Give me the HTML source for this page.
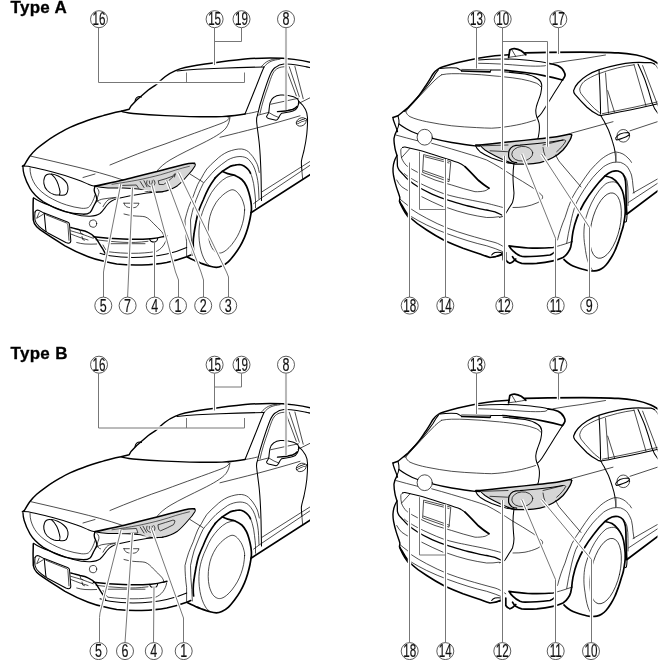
<!DOCTYPE html>
<html>
<head>
<meta charset="utf-8">
<style>
html,body{margin:0;padding:0;background:#fff;}
body{width:660px;height:660px;overflow:hidden;font-family:"Liberation Sans",sans-serif;}
svg{display:block;position:absolute;left:0;top:0;}
.t{fill:none;stroke:#000;stroke-width:0.7;stroke-linecap:round;stroke-linejoin:round;}
.m{fill:none;stroke:#000;stroke-width:1.05;stroke-linecap:round;stroke-linejoin:round;}
.k{fill:none;stroke:#000;stroke-width:1.7;stroke-linecap:round;stroke-linejoin:round;}
.g{fill:#d6d6d6;stroke:none;}
.ld{fill:none;stroke:#777;stroke-width:1;}
.ldh{fill:none;stroke:#fff;stroke-width:3.4;stroke-linecap:butt;}
.lb circle{fill:#fff;stroke:#333;stroke-width:0.8;}
.lb text{font-family:"Liberation Sans",sans-serif;font-size:18.8px;fill:#111;text-anchor:middle;stroke:#111;stroke-width:0.2;}
.ttl{font-family:"Liberation Sans",sans-serif;font-weight:bold;font-size:17px;letter-spacing:0.3px;fill:#000;stroke:#000;stroke-width:0.3;}
</style>
</head>
<body>
<svg width="660" height="660" viewBox="0 0 660 660" style="filter:grayscale(1)">
<defs>
<clipPath id="cft"><path d="M222.3,100 L320,100 L320,300 L219,300 L219,262 L222.3,172.5 Z"/></clipPath>
<clipPath id="cf"><rect x="0" y="0" width="310" height="330"/></clipPath>
<!-- ================= FRONT CAR ================= -->
<g id="front" clip-path="url(#cf)">
 <!-- headlight fill -->
 <path class="g" d="M95,186 C105,184 115,182 123,180 C135,177 146,174 157,171.5 C168,168.5 178,166 184,164.5 C189,163.5 192,163 194.5,163.5 C195.5,164 195.5,165 195,166 C193,169.5 191,172 188,175 C185,178.5 181.5,182.5 177.5,185.7 C173,188.7 167.5,190.8 162,191.8 C157,192.5 152,192.3 148,191.6 C145,191 143,189.8 140,189.3 C134,188.5 129,188.2 123,188 L108,188 C103,187.5 99,187 95,186 Z"/>
 <!-- roof / far A pillar / hood edge -->
 <path class="k" style="stroke-width:1.45" d="M311,62.5 C305,60.9 300,60.1 294,59.4 C288,58.6 280,58 270,58 C260,58 252,58.5 245,59 C235,60 226,61 215,62.8 C203,64.4 193,65.8 185,67.5 C181,68.4 178,69.5 175,70.8 C171,72.5 168,74.3 165,76.7 C162,79 159.5,81.8 156.7,84.2 C154,86.3 151,88 148.3,90 L136.7,100 L131,106 L129.2,109.2 L121,111.3 C119.5,111.6 115.0,112.5 112.0,113.2 C109.0,113.9 106.1,114.8 103.3,115.6 C100.5,116.4 97.8,117.2 95.0,118.0 C92.2,118.8 89.5,119.7 86.7,120.7 C83.9,121.7 80.8,122.9 78.0,124.0 C75.2,125.1 72.8,126.1 70.0,127.4 C67.2,128.7 64.3,130.2 61.5,131.8 C58.7,133.4 56.0,134.9 53.3,136.7 C50.5,138.4 47.8,140.3 45.0,142.3 C42.2,144.3 39.2,146.5 36.7,148.8 C34.2,151.1 32.1,153.2 30.0,156.0 C27.9,158.8 25.0,163.9 24.0,165.5"/>
 <!-- far mirror bump -->
 <path class="m" d="M135,101 C135.5,98.5 137.5,96.5 140,96.5 L141.5,97"/>
 <!-- windshield base -->
 <path class="k" style="stroke-width:1.4" d="M121,111.2 C124,112.5 128,113 133,113.5 C143,114.5 155,115.3 165,115.6 C185,116.5 205,117.3 222,116.6 C232,116 240,115 245,114"/>
 <path class="t" d="M245,114 C250,113.3 254,112.4 257.4,111.5"/>
 <!-- windshield top -->
 <path class="m" d="M177,71 C190,69.5 205,68.6 220,68.2 C235,67.6 250,67.2 264,67"/>
 <!-- A pillar near, inner edge -->
 <path class="m" d="M264,67 C262,71.5 260,76.5 258,81.7 C254,92 249.5,103 245,114"/>
 <!-- A pillar to roof double line -->
 <path class="t" d="M261.5,66.5 C263.5,64 266,62 268.5,60.8 C271,59.6 274,59 277,58.6"/>
 <path class="t" d="M264,67 C266,64.3 268.5,62.5 271,61.3 C273.5,60.2 277,59.6 280,59.2"/>
 <!-- door frame outer -->
 <path class="m" d="M257.5,115 C259,108 261,101 263,95 C265.5,87.5 267.5,81 270,75 C271.5,71.5 273,69 275.5,67.3 C278,65.3 281,64.3 284,64 C288,63.7 292,64.2 296.7,65 C301,65.7 306,66.6 311,67.7"/>
 <!-- door frame inner -->
 <path class="t" d="M260,113.5 C262,104 265,95 268,86.7 C269.6,82 271,77 273,73.2 C274.3,70.7 276,69.2 278,68.2 C280.5,67 283,66.7 286,66.7"/>
 <!-- B pillar -->
 <path class="t" d="M285.5,67 L296.3,95.8"/>
 <path class="t" d="M289.3,66.8 L299.3,96.7"/>
 <path class="t" d="M294.9,66.5 L303.2,98.7"/>
 <path class="t" d="M306,66.8 L311,68"/>
 <!-- beltline -->
 <path class="t" d="M257.5,115.3 L268.3,112.5"/>
 <path class="t" d="M298,103.8 L311,97.3"/>
 <!-- mirror -->
 <path class="m" d="M266.5,116.5 C267.5,115 268.5,113.8 268.8,112 C269.2,109 269.3,106 270,103.2 C270.6,100.8 272,98.6 273.8,97.3 C275.5,96 278,95.3 280.5,95.1 C285,94.8 290,95.6 293.5,96.8 C296,97.7 298,99 298.5,100.8 C299,103 298.5,105.5 297.5,107.3 C296.5,109.3 295,110.5 293,111 C289.5,112 285,112.5 281.5,113.3 C280,114.5 279.5,116.5 278.5,118 C277.8,119.5 277,120.2 276,120.3 L268.5,118.6 C267.5,118.2 266.7,117.5 266.5,116.5 Z" fill="#fff"/>
 <path class="t" d="M270.8,104.2 L298.3,98.3"/>
 <path d="M277.5,111.6 C283,111.4 288.5,110.6 292.5,109.5 C294.5,108.8 296,107.8 297.3,106.3" style="fill:none;stroke:#000;stroke-width:1.4;stroke-linecap:round"/>
 <path class="t" d="M268.8,112.5 L274,115.5 L278.8,117.5"/>
 <!-- door handle -->
 <ellipse class="t" cx="301.3" cy="121.9" rx="5.3" ry="3.9" transform="rotate(-28 301.3 121.9)"/>
 <path d="M297.2,123 C299.5,121.6 302.5,120.3 305.6,119.6" style="fill:none;stroke:#000;stroke-width:2.6;stroke-linecap:round"/>
 <path d="M297.2,123 C299.5,121.6 302.5,120.3 305.6,119.6" style="fill:none;stroke:#fff;stroke-width:1.4;stroke-linecap:round"/>
 <!-- door front edge -->
 <path class="m" d="M257.5,115 C256.6,117 256.4,119 256.6,121.5 C257.2,128 258.3,134.5 259,141 C259.8,148 260.2,155 260.5,161.4 C261,171 261.2,181 261.3,190 L261.5,200.5"/>
 <!-- door rear edge -->
 <path class="m" d="M298.5,100.8 C301.5,103.5 304,106.5 305.5,109.5 C306.8,112 307.4,115 307.5,117.7 C307.7,123 307.3,128.5 306.8,134 C306.2,139.5 305.2,145 304,150.5 C303,154.5 301.8,158 301.4,161.4 C301.2,164.5 301.7,168 302,171"/>
 <!-- fender / door crease -->
 <path class="t" d="M220,137.3 C232,134.3 245,131 256.8,128 C270,124.5 285,120.3 300,115.8"/>
 <!-- hood-right shut line -->
 <path class="t" d="M110,165 C128,157.5 147,150 165,144 C185,136.5 205,129.5 221,123.5 C225,122 228.5,120 229.3,118 C229.5,117.3 229,117 228,117.2"/>
 <path class="t" d="M230,117.5 C229.5,121 228.5,124.5 226,128 C222,133 213,138 203,143 C192,148.5 180,154 170,160 C165,163 160,167 156.5,171.5"/>
 <!-- hood crease left -->
 <path class="t" d="M31,156.2 C46,159.5 62,163.5 77,167 C92,170.7 107,174.5 123,180"/>
 <path class="t" d="M83,177.5 L95,174"/>
 <!-- headlight outline -->
 <path class="k" d="M95,186.2 C105,184 115,182 123,180 C135,177 146,174 157,171.5 C168,168.5 178,166 184,164.5 C189,163.3 192,163 194.5,163.4"/>
 <path class="m" d="M194.5,163.4 C195.6,164 195.5,165 195,166 C193,169.5 191,172 188,175 C185,178.5 181.5,182.5 177.5,185.7 C173,188.7 167.5,190.8 162,191.8 C157,192.5 152,192.3 148,191.6 C145,191 143,189.8 140,189.3 C134,188.5 129,188.2 123,188 L108,188 C103,187.5 99,187 95,186.2"/>
 <!-- headlight inner details -->
 <!-- hood leading edge -->
 <path class="k" d="M24,165.5 L22.5,166.2"/>
 <path class="m" d="M22.5,166 L28.3,166.2 C36,168 44,169.8 51.7,171.7 C60,173.8 69,176.7 76.7,179.5 C81,181 85,182.8 88.3,184.2 C91,185.3 93,185.8 95,186.2"/>
 <!-- grille outer -->
 <path class="k" style="stroke-width:1.35" d="M23,167.5 C23,170 23.5,172.5 24.2,175 C25.5,179.5 27.5,184 30,188.3 C33,193.5 38,198 43.3,201.7 C50,206 57,209.3 65,211.7 C71,213.3 77,214 83.3,214.2 C86,214.2 88.5,213.7 90,212.5 C91.7,211 92.5,208.5 93.3,206.7 C94.5,204.3 96,202.3 96.7,200 C97.2,198 96.3,196.5 95.8,195 C95,193.3 94.2,191.8 94.2,190 C94.2,188.6 94.6,187.4 95,186.2"/>
 <!-- grille inner -->
 <path class="t" d="M30,168 C30,170.5 30.3,173 31,175.5 C32.2,179.5 34,183.3 36.7,186.7 C39.7,190.5 43.7,193.8 48.3,196.7 C54,200 60,203 66.7,205 C71.5,206.5 76.5,207.7 81.7,208.3 C84,208.5 86.5,208.3 88.3,207.5 C90,206.3 91.3,204 92.5,201.7 C93.5,199.5 94.5,197.3 95,195"/>
 <!-- emblem -->
 <path class="m" d="M51.4,174.2 C49.5,173.8 47.8,174 46.6,174.8 C45.6,175.5 44.9,176.4 44.5,177.5 C43.8,179.3 43.6,181.5 43.9,183.6 C44.3,186.3 45.5,188.6 47.3,190.5 C49.2,192.4 51.5,193.7 54,194.5 C55.8,195 57.7,195.2 59.5,195 C60.3,192.8 60.2,190.8 59.5,189 C58.8,186 58,183.2 56.8,180.9 C55.4,178.3 53.5,176 51.4,174.2 Z"/>
 <path class="m" d="M51.4,174.1 C53.8,174.3 56,175 58.2,176 C60.2,176.9 62,178 63.6,179.5 C65,180.7 66.2,182 67,183.6 C67.8,185.3 68.2,187.2 68,189 C67.8,190.8 67.3,192.6 66.4,193.9 C65.2,195 63,195.4 61,195.2 L59.5,195"/>
 <!-- under-grille bumper line -->
 <path class="m" d="M33.5,197.8 C38,201 44,203.5 50,205.5 C57,208.5 65,211.7 72.5,213.8 C78,215.3 84,216.5 90,216.3 C94,216 97.5,215.3 100,213.5 C103,211 105,207.5 107.5,204.5 C110,201.5 113.5,199.8 117.5,198.6 C127,196.2 137,194.5 146.7,193 C152,192.3 158,191.9 163,191.7"/>
 <!-- wing details -->
 <path class="t" d="M97,188 C99,190 99.5,192 98.5,194.5 C97.8,196.5 96.8,198.5 97.5,200.5 C98,202 99,203 100.5,203.3"/>
 <path class="t" d="M96.7,201.7 C98.5,200.3 100.5,199.4 103,199 C107.5,198.2 112,197.8 116.7,197.3"/>
 <path class="t" d="M103,206.7 C104.5,204 106,201.7 108,200 C110,198.8 112.5,198.3 115,198"/>
 <!-- small marker under headlight -->
 <path class="t" d="M124,203.2 L139,203.2 C138.5,205 137,207 135,207.5 C132,208 129,207.8 126.7,206.8 C125.3,206 124.4,204.8 124,203.2 Z"/>
 <!-- intake curve -->
 <path class="t" d="M124,214 C127,214.8 130,215.4 133,215.8 C137,216.3 141.5,216 145,216.8 C148.5,218 151,220.8 153.3,223.3 C156.3,226.3 159.3,229 161.7,231.7 C163,233.3 163.7,235 164,236.7"/>
 <path class="t" d="M166.7,237.3 C166,241 164.8,243.5 163,246 C161,248.7 158.5,250.5 155.5,251.8"/>
 <!-- bumper left outline -->
 <path class="k" style="stroke-width:1.5" d="M33.3,198.3 C33,205 33,212 33.3,220 C33.7,223 35,225 36.7,226.7 C38.5,228.5 40.5,230 43,231.7 C50,236.5 57.5,241.2 65,245.8 C72.5,250 80,253.5 88.3,256.7 C93,258.5 98,260 103,261 C108,262.3 112.5,263.3 116.7,264 C125,265 133,265.3 141.7,265 C150,264.7 158.5,264 166.7,262.5 C173.5,261 180.5,259 186.7,256.7 L190.8,255"/>
 <!-- bumper lip upper -->
 <path class="m" d="M100,253.3 C103,254.3 106.5,255.2 110,255.8 C117.5,257 125,257.5 133,257.5 C144.5,257.3 156,256.3 166.7,254 C173.5,252.5 180.5,250.3 186.7,247.5"/>
 <!-- left fog bezel -->
 <path class="m" d="M35,212 C35.6,210.7 36.5,210 37.7,210 C39.7,210.5 41.6,211.8 43.8,213"/>
 <path class="m" d="M35,212 C34.7,214.5 34.7,217.5 35,220 C35.5,222.5 37,224.5 39,226.3 C41,228.3 43.5,230 46,231.7"/>
 <path class="t" d="M39.2,212.5 L36.7,218.3 L43.3,214.2"/>
 <!-- license plate -->
 <path class="m" d="M44.2,213 L67.5,222 C68.7,222.5 69.3,223.2 69.5,224.2 L70.8,240.8 C70.8,242.3 69.7,243.3 68.3,243.3 L65.8,242.5 L47.5,232.8 C46.5,232.2 45.9,231.3 45.8,230 Z" fill="#fff"/>
 <path class="t" d="M45.8,214.7 L66.5,223 C67.3,223.4 67.8,224 67.9,224.8 L69,240.3"/>
 <!-- sensor -->
 <circle class="t" cx="93" cy="223.6" r="3.7"/>
 <!-- lower grille -->
 <path class="k" style="stroke-width:1.4" d="M70.8,227.5 C74,228.3 77,229.2 80,230 C83.5,230.6 86,231.2 88,232.3 C91,233.6 93.5,235.5 95.5,237.8 C98,241 100,245 102.5,248.5 C103.6,250.5 104.8,252.5 105.6,254.5"/>
 <path class="t" d="M70.8,230.8 C74.5,231.8 78,233 81.7,234 C85.5,235.3 89.5,237 93.3,238.3"/>
 <path class="t" d="M70.8,234 C74,235.2 77,236.5 80,237.5 C82.7,238.4 85.5,239.3 88,240"/>
 <path class="t" d="M80,230 L80.8,233.3 L83,234.3"/>
 <path class="t" d="M82,236.5 L82.7,239.5 L84.5,240.2"/>
 <path class="t" d="M76.7,242.5 C79.5,243.2 82,243.8 85,244 C89,244.3 93,244.2 96.7,244"/>
 <path class="k" style="stroke-width:1.4" d="M93.3,236.7 C103,237.8 113,238.6 123,239 C133,239.5 143,239.3 151,238.7 C156,238.3 160,237.6 163,236.7 L167,235.8"/>
 <path class="t" d="M96,239.8 C105,241 114,241.8 123,242.3 C131,242.7 139,242.5 148,241.3"/>
 <path class="t" d="M108,243.7 L145,243.7"/>
 <path class="t" d="M103,245 C104.5,248 106,250.5 108,251.7 C116,252.8 125,253.3 133,253.3 C140.5,253.3 148,252.8 155,251.7"/>
 <!-- fog lamp -->
 <path class="m" d="M149.5,238.7 C149.8,240 150.3,240.8 151,241.3 C152.3,242 153.7,242.2 155,242 C156.3,241.7 157.3,240.8 157.5,239.3 L157.6,238.3" fill="#fff"/>
 <!-- fender arch -->
 <path class="t" d="M190,174 L203.2,182.3"/>
 <path class="t" d="M186.6,256.8 L186.6,241.8 C185.6,235 185,227 185,220 C186,215.7 187.2,211.5 188.6,207.3 C190,203.6 191.6,200 193.2,196.4 C194.6,192.4 196,188.4 197.7,184.5 C198.8,182.3 200,180.2 201.4,178.2 C203,175 204.8,172 206.8,169 C209.6,165.8 212.7,162.8 216,160 C219.5,156.5 223.5,153.7 228,151.7 C232.5,150 237.5,148.7 241.7,149 C245.5,149.5 248,151 250,153.3 C252,155.3 253.6,157.6 255,160 C255.9,161.5 256.6,163 257.3,164.5 C257.9,166.1 258.3,167.8 258.6,169.5 L259.3,172.5"/>
 <path class="t" d="M192.3,255.5 L191.8,244 C191,236 190.5,228 190.5,220 C191.5,215 192.7,210.2 194,205.5 C195.4,201.5 197,197.5 198.6,193.6 C200,190.2 201.5,186.8 203.2,183.6 C204.6,181.7 206,180 207.7,178.2 C210.3,175 213,171.9 216,169 C219.7,165.8 223.6,162.8 227.7,160 C231.5,157.8 236,156.6 240,156.5 C243.5,156.6 246.5,157.5 248.5,159.3 C250.3,161 251.8,163.2 253.2,165.5 C254.4,167.8 255.2,170.2 255.9,172.7 C256.7,175.3 257.3,177.9 257.7,180.5 C258.2,183.6 258.5,186.8 258.6,190 L259,199"/>
 <!-- wheel opening thick -->
 <path class="k" d="M215,178.2 C217.3,175.7 219.7,173.4 222.3,171.4 C224.8,169.6 227.3,167.8 230,166.4 C231.7,165.7 233.3,165.3 235,165.1 C236.5,164.7 238,164.5 239.5,164.5 C241,164.7 242.6,165.2 244,165.9 C245.6,166.8 247,168 248.2,169.5 C249.2,170.6 250,171.8 250.5,173.2"/>
 <path class="t" d="M250.5,173.2 C251.3,174.8 251.8,176.5 252.3,178.2 C252.8,180 253.2,181.8 253.6,183.6 C254,185.7 254.3,187.8 254.5,190 C254.9,193.3 255.3,196.7 255.5,200 L255.5,207.7"/>
 <path class="k" d="M215,178.2 C212.6,181.4 210.5,184.7 208.6,188.2 C206.6,192 204.8,196 203.2,200 C201.5,203.6 200,207.3 198.6,211 C197.7,214 197,217 196.4,220 C196,221.7 195.7,223.3 195.5,225 C194.9,228 194.4,231 194,234 C193.5,237 193.2,240 193.2,243.2 C193.2,245.7 193.3,248.2 193.6,250.5"/>
 <!-- tire -->
 <path class="k" d="M222.3,171.4 C223.2,171.8 225.6,172.9 227.7,173.6 C229.8,174.3 232.7,174.5 235.0,175.5 C237.3,176.5 239.9,177.8 241.8,179.5 C243.7,181.2 245.2,183.7 246.4,186.0 C247.6,188.3 248.2,190.5 249.0,193.2 C249.8,195.9 250.6,199.5 251.0,202.3 C251.4,205.1 251.6,207.2 251.4,210.0 C251.2,212.8 250.6,216.0 250.0,219.0 C249.4,222.0 248.6,225.1 247.7,228.2 C246.8,231.2 245.8,234.3 244.5,237.3 C243.2,240.3 241.7,243.5 240.0,246.4 C238.3,249.3 236.5,251.9 234.5,254.5 C232.5,257.1 230.3,259.9 228.2,261.8 C226.1,263.7 223.8,265.1 221.8,266.0 C219.8,266.9 218.5,267.3 216.4,267.3 C214.3,267.3 211.4,266.6 209.0,266.0 C206.6,265.4 204.1,264.4 202.0,263.6 C199.9,262.8 198.8,262.4 196.4,261.4 C194.0,260.3 189.1,258.0 187.7,257.3"/>
 <path class="t" d="M235,175 C232.2,175.5 229.4,176.3 226.8,177.3 C223.8,179 221,181.1 218.6,183.6 C216,186.4 213.6,189.4 211.4,192.7 C209.3,196.2 207.5,199.8 206,203.6 C204.5,206.6 203.3,209.6 202.3,212.7 C200.8,217 199.8,221.5 199.3,226 C198.6,232.5 198.8,239 200,246 C201,251.5 202.7,257 205.5,261.5 C206.8,263.5 208.5,265.2 210.5,266.3"/>
 <path class="t" d="M244.6,210.0 C244.5,212.3 244.2,216.0 243.6,219.0 C243.0,222.0 242.1,225.3 241.0,228.2 C239.9,231.1 238.8,233.7 237.3,236.4 C235.8,239.1 233.6,242.2 231.8,244.5 C230.0,246.8 228.1,248.6 226.4,250.0 C224.7,251.4 223.3,252.2 221.8,252.7 C220.3,253.1 218.8,253.3 217.3,252.7 C215.8,252.1 214.0,250.9 212.7,249.0 C211.4,247.1 210.1,244.0 209.3,241.0 C208.6,238.0 208.2,234.3 208.2,231.0 C208.1,227.7 208.5,224.2 209.0,221.0 C209.5,217.8 210.2,214.9 211.4,211.8 C212.6,208.8 214.2,205.4 216.0,202.7 C217.8,200.0 220.2,197.4 222.3,195.5 C224.4,193.6 226.8,191.9 228.6,191.0 C230.4,190.1 231.6,189.6 233.0,189.8 C234.4,190.0 235.8,190.8 237.3,192.3 C238.8,193.8 240.7,196.5 241.8,198.6 C242.9,200.7 243.5,203.1 244.0,205.0 C244.5,206.9 244.7,207.7 244.6,210.0 Z"/>
 <!-- rocker -->
 <path class="k" d="M251,212.7 L311,174"/>
 <path class="t" d="M253.6,203.6 L260.9,198.3 L311,164.6"/>
 <path class="t" d="M262,191.8 L311,160.8"/>
 <path class="t" d="M302,172 L302.7,179.5"/>
</g>

 <g id="hlA">
 <path class="t" style="stroke:#222" d="M112,184.3 C121,183 130,181.5 137.9,180 C146,178.4 153.5,176.6 160.6,174.7 C166,173.2 171,171.6 175.8,170 C180.5,168.6 185,167.3 189.4,166.3"/>
 <path class="t" d="M147,180.7 C146.3,182.5 146.5,184 147.7,185.3 C148.5,186.2 149.6,186.7 150.8,186.8"/>
 <path class="t" d="M153.8,180 C155,181.5 155.3,183 154.5,184.5 C154,185.6 153.2,186.4 152.3,186.8"/>
 <path class="t" d="M149.3,181 C149.3,183 150,184.5 151,185 C152,184 152.5,182.5 152.3,180.7"/>
 <path class="t" d="M140.2,181.5 L144,187.5"/>
 <path class="t" d="M144,180.7 L147,186.8"/>
 <path class="t" d="M158.3,180.7 L159,184.5 L163.6,184.5 C166.5,182.6 169,180.6 171.2,178.5 C172.7,177.2 174,176 175,174.7"/>
 <path class="t" d="M159,180.7 C163.5,179.5 168.5,178 172.7,176.2"/>
 <path class="t" d="M173,175.5 L175.3,173.5 L174.5,177"/>
 <path class="t" d="M119.7,185.5 L136.4,185 L138.6,188.3"/>
 <path d="M122,189.6 L147,190 L150,191.4 L136,190.6 Z" fill="#fff" stroke="none"/>
 </g>
 <g id="hlB">
 <path class="t" style="stroke:#222" d="M112,184.3 C121,183 130,181.5 137.9,180 C146,178.4 153.5,176.6 160.6,174.7 C166,173.2 171,171.6 175.8,170 C180.5,168.6 185,167.3 189.4,166.3"/>
 <path class="t" d="M147,180.7 C146.3,182.5 146.5,184 147.7,185.3 C148.5,186.2 149.6,186.7 150.8,186.8"/>
 <path class="t" d="M153.8,180 C155,181.5 155.3,183 154.5,184.5 C154,185.6 153.2,186.4 152.3,186.8"/>
 <path class="t" d="M149.3,181 C149.3,183 150,184.5 151,185 C152,184 152.5,182.5 152.3,180.7"/>
 <path class="t" d="M140.2,181.5 L144,187.5"/>
 <path class="t" d="M143,180.7 L146.5,186.8"/>
 <path class="t" d="M158.3,179.2 C163,177.7 168,176.2 172.7,174.7 C173.8,174.5 174.7,174.8 175,175.4 C174.8,176.8 174.2,178 173.5,179.2 C169.5,181.3 165,183.5 160.6,185.3 C159.5,185.2 158.8,184.3 158.5,183 Z"/>
 <path class="t" d="M121.2,183.8 L136.4,183 L137.9,187.5 L122,188.3" style="fill:#e8e8e8"/>
 <path d="M122,189.8 L147,190.2 L150,191.6 L136,190.8 Z" fill="#fff" stroke="none"/>
 </g>
<clipPath id="cr"><rect x="380" y="0" width="277.5" height="330"/></clipPath>
<clipPath id="crt"><path d="M607,173.5 L605,175.8 L594,188.5 L584,203 L577,217.6 L573,231.7 L571.7,241.7 L570,250 L566.7,256.7 L562.3,259.3 L560,285 L660,285 L660,168 Z"/></clipPath>
<!-- ================= REAR CAR ================= -->
<g id="rear" clip-path="url(#cr)">
 <!-- roof -->
 <path class="k" style="stroke-width:1.45" d="M393,117.5 L398,115.8 C402,112.5 405,110 408,107.5 C411,104.5 414,101.5 416.7,98.3 C420,94.5 422.5,90.5 425,86.7 C428,82.5 430.5,78 433,74 C434.5,71.8 436,70.2 438,69 C439.5,68 441,67.3 443,66.7 C448,65.2 453,63.8 458,62.5 C464.5,61 471,59.6 478,58.3 C484,57.2 490,56.4 495,55.8 C500,55.3 504.5,55 509,54.8"/>
 <path class="k" d="M525,52.8 C533,52.5 540,52.3 548,52.3 C560,52.2 572,52.2 582.7,52.2 C588.5,52.2 594.5,52.2 600,52.3 C606,52.4 612.2,52.5 618.2,52.9 C624.5,53.2 630.5,54 636.4,55 C641.5,56 646.5,57.6 650.9,59.5 C653,60.5 655,61.6 656.8,62.7 L658,63.5"/>
 <!-- shark fin -->
 <path class="k" d="M508.6,57.4 L509.8,50 C511.2,48.9 512.7,48.5 514.5,48.6 C517,48.9 519.2,49.7 521.2,50.8 C523,52 524.6,53.3 525.8,54.8"/>
 <path class="t" d="M509,57.3 C512,56.8 514.5,56.5 516.7,56.2 C520,55.7 523,55.2 525.8,54.6"/>
 <path class="t" d="M511.7,49.5 L515.8,56.5"/>
 <!-- roof side thin line -->
 <path class="t" d="M553,63.3 C563,61.6 573,60 582.7,58.8 C590,57.5 598,56.2 605.5,55"/>
 <!-- inner parallel line left pillar -->
 <path class="m" d="M438.5,69.7 C436.3,72.2 434.6,75 433,78 C428.5,84.5 423.5,91 418,96.7 C414.7,100.5 411.3,104.3 408,108 L404,111.5"/>
 <!-- spoiler top & stop lamp -->
 <path class="m" d="M440,68.6 C445.5,67.8 451,67.6 456.7,68 C458.7,68.6 460,69.8 461.7,70.8"/>
 <path class="k" d="M461.7,71 L490,71.9"/>
 <path class="m" d="M490,71.8 L491,70 L502,70"/>
 <path class="t" d="M461.7,69.4 L490.8,69.9"/>
 <path class="m" d="M478,60 C486,59.3 494,59 501.7,59 C509.5,59 517.5,59.4 525,60 C532,60.6 539,61.4 545,62.5 L548,63.3"/>
 <path class="t" d="M478,63.3 C485.5,63.4 493,63.6 500,64 C508.5,64.5 517,65.2 525,65.8 C532,66.2 539,66.4 545,65.8 C546.5,65.5 547.5,64.8 548,64"/>
 <!-- spoiler right end -->
 <path class="k" d="M548,63.3 C551.5,63.6 555,64.4 558,65.8 C561,67.3 563,69.3 564,71.7 C564.8,73 565.2,74.4 565,75.8 C564.5,77.3 563.5,78.7 562.5,80"/>
 <path class="m" d="M562.5,80 C560,84 557.5,88 555,91.7 C552.7,95.5 550.3,99.3 548,103 C546,106.4 543.8,109.8 541.7,113 C540.5,114.8 539,116.3 537.5,117.5"/>
 <path class="k" d="M502.5,70 C510,70.7 517.5,71.5 525,72.5 C532,73.4 539,74.5 545,75.8 C551,77 557,78.5 562.5,80"/>
 <!-- rear window -->
 <path class="t" d="M441.7,74.7 C445,74 448.5,73.8 451.7,73.7 C457,73.6 462.5,73.7 468,74 C477,74.4 486,75 495,76 C498,76.2 501,76.5 503.5,76.8 C510,77.4 516,78.2 521.7,79.2 C527,80.2 532,81.5 536.7,83.3 C538.5,84.2 540,85.3 540.8,86.7"/>
 <path class="t" d="M441.7,74.7 C439.3,76.3 437,78.2 435,80 C430.5,84.5 426,89.3 421.7,94 C417.7,98.3 413.8,102.5 410,106.7 C408.3,108.4 407,110 405.8,111.7"/>
 <path class="t" d="M405.8,111.7 C406.5,113.8 408,115.5 410,116.7 C415,119 421,120.5 426.7,121.7 C435,123.4 443.5,124.8 451.7,125.8 C460,126.7 468.5,127.2 476.7,127.6 C482,127.8 487,128.2 491.7,128.2 C500,127.8 508.5,126.6 516.7,125 C523,123.8 529.5,122 535.5,120"/>
 <!-- liftgate right edge -->
 <path class="m" d="M503,71.7 C510.5,72.3 518,73 525,74 C530,74.8 534.5,76.5 538,79 C540.2,80.5 541.5,82.6 541.7,85 C541.8,87.8 541.4,90.6 540.8,93.3 C540,96.7 538.6,100 537.5,103 C536.6,105.4 536,107.7 535.8,110 C535.7,112.3 536,114.6 536.7,116.7 C537.5,118.8 538.5,120.8 539,123 C539.7,126.3 539.5,129.7 539,133 C538.7,135.5 538.2,137.8 537.5,139.5"/>
 <!-- quarter window -->
 <path class="t" d="M658.5,69.5 C657.3,67.3 656,65.4 654.5,64.1"/>
 <path class="k" style="stroke-width:1.25" d="M654.5,64.1 C653.4,63.4 652.2,63 650.9,62.7 C649,62.6 647,62.6 644.8,62.6 C640.8,62.4 636.7,62.4 632.7,62.6 C627.7,63 622.5,63.8 617.6,64.8 C611.5,66 605.3,67.6 599.4,69.7 C595,71.2 590.8,73.2 587,75.5 C583.5,77.6 580.5,80.2 578,83 C576,85.2 574.5,87.8 573.6,90.6 C573.5,92 574.2,93.3 575,94.4 C578.8,98.8 582.8,103.2 587,107.3 C590.3,110.3 594,112.8 598,114.8 L601,115.6"/>
 <path class="t" d="M634,64.8 C628.5,65.5 623,66.6 617.6,67.9 C611,69.6 604.3,71.5 598,74 C593,76 588,78.5 584,81.5 C582,83.3 580.5,86 579.7,89 C579.7,90.7 580.3,92.3 581,93.6 C583.8,97.2 586.8,100.8 590,104 C592.8,107.2 596,110.2 599.4,112.6"/>
 <path class="m" d="M599,70 C599.5,77 599.8,84 600,90.6 C600.3,98.5 600.5,106.5 600.6,114"/>
 <path class="t" d="M605.5,73 L608.5,113.2"/>
 <path class="t" d="M607.7,90.6 L614.5,112.2"/>
 <!-- window bottom -->
 <path class="m" d="M601,115.6 C605.5,114.8 610,114 614.5,113 C621.5,111.7 628.8,110.3 635.8,108.8 C643,107.3 650,105.7 658,103.8"/>
 <path class="t" d="M602.4,113.7 C613,111.5 624,109.3 635,107 C642.5,105.3 650,103.6 658,101.8"/>
 <!-- B pillar -->
 <path class="t" d="M634,64.5 L646,105.8"/>
 <path class="m" d="M638,64 C640.5,69.3 643,74.7 645,80 C647.7,87.5 650,95.3 652,102.7 C653.3,106.7 655.2,110.2 658,113.5"/>
 <path class="t" d="M642.6,65.6 L658,106"/>
 <!-- door rear edge -->
 <path class="m" d="M601,115.6 C601.8,117.5 602.8,119.3 604,121 C605.5,124 607,127 608.5,130 C610,134 611.5,138 612.5,141.7 C613.6,145 614.5,148.4 615,151.7 C615.5,155 615.7,158.3 615.8,161.7"/>
 <!-- body crease -->
 <path class="t" d="M571,133.2 L613,121.7"/>
 <path class="t" d="M630,130.8 L658,121.5"/>
 <!-- door handle -->
 <circle class="t" cx="623.3" cy="135.8" r="6.3"/>
 <path class="m" d="M615.8,137.7 C617,136 618.5,134.8 620,134 C622.5,133 625.3,132.5 628,132.5 C629.3,133 629.7,134 629,135 C627.3,136.3 625.2,137.3 623,138 C621,138.8 618.8,139.5 616.7,140 C615.8,139.5 615.5,138.7 615.8,137.7 Z" fill="#fff"/>
 <!-- far tail lamp tip -->
 <path class="k" style="stroke-width:1.3" d="M393,117.5 C393,119 393.5,120.5 394,121.7 C394.8,124.2 395.8,126.6 396.7,129 L397.5,131.7"/>
 <path class="m" d="M398,115.8 C398.7,118.2 399.2,120.6 399,123 C398.7,125.8 397.8,128.5 396.7,130.8"/>
 <!-- shoulder -->
 <path class="k" style="stroke-width:1.3" d="M399,124 C401.5,125.8 404,127.5 406.7,129 C410,131 413.7,132.7 417.7,134"/>
 <path class="k" style="stroke-width:1.3" d="M432.5,138.3 C439,140 445.3,141.3 451.7,142.5 C459.5,143.8 467.3,145 475,145.8 L480,146"/>
 <ellipse class="t" cx="424.7" cy="137.2" rx="7.6" ry="7.9"/>
 <path class="t" d="M395.8,135 C403,137 410.3,139 417.7,140.8"/>
 <path class="t" d="M431.7,143.3 C438.5,145.2 445,147 451.7,149 C458.5,151 465,153 471.7,155 C476.7,156.5 481.7,158.2 486.7,160 C495.3,164.5 503.7,169.6 511.7,175 C519,179.2 526,183.5 533,188 C536,190.2 539,192.5 541.7,195 C542.6,196 542.8,197 542.5,198 C541.5,199.8 540,201.3 538,202.5 C534,204.4 529.5,205.8 525,206.7 C521,207.3 517,207.6 513,207.5"/>
 <!-- left body edge -->
 <path class="k" style="stroke-width:1.4" d="M396.7,130.8 C395.3,133.2 394.4,135.7 394,138.3 C393.8,141.7 394.4,145 395,148.3 C395.4,150.8 396.4,153.2 397,155.5 C396,157.3 395,159 394.4,161 C393.6,163.3 393.2,165.7 393,168.2 C392.9,170.6 393.1,173 393.5,175.5 C394.2,179.2 395.1,182.8 396.2,186.4 C397.3,190 398.7,193.7 399.8,197.3 C400,198.6 399.6,199.8 399.4,201 C400.2,203.5 401.3,206 402.5,208.2 C404,211.3 406,214.2 408,216.7"/>
 <!-- license recess -->
 <path class="m" d="M402.5,147.5 C403.2,147 404,146.9 405,147 C409.3,148 413.7,149 418,150 C425.5,152 432.8,154.3 440,156.7 C446,158.6 452,160.5 458,162.5 C460.7,163.5 463,165 465,166.7"/>
 <path class="k" d="M465,166.7 C469.5,171 473.8,175.6 478,180 C481.5,183 485.2,185.8 489,188.3"/>
 <path class="t" d="M489,188.3 C487.8,189.5 486.5,190.3 485,190.8 C481.8,191.6 478.4,191.8 475,191.7 C467,189.8 459.3,187.4 451.7,185 C446,183.4 440.5,181.7 435,180 C429,177.8 423.5,175.2 418,172.5 C414,170.5 410.2,168.3 406.7,165.8 C404.5,163.6 402.8,161 401.7,158.3 C401,155.6 400.7,152.8 400.8,150 C401,148.8 401.6,148 402.5,147.5"/>
 <path class="t" d="M410,148.3 L401.7,157.5"/>
 <!-- license plate -->
 <path class="t" d="M424,154.7 L450.8,161.7 L449,181.7 L423,172.5 Z"/>
 <path class="t" d="M425,156.8 L449,163"/>
 <path class="t" d="M423.5,170.6 L449.3,179.7"/>
 <!-- bumper lines -->
 <path class="k" style="stroke-width:1.3" d="M397.0,155.5 C397.1,156.4 397.2,159.2 397.3,161.0 C397.4,162.8 397.2,164.9 397.5,166.4 C397.8,167.9 398.3,168.8 399.0,169.8 C399.7,170.9 400.1,171.1 401.6,172.7 C403.1,174.3 405.3,177.2 408.0,179.5 C410.7,181.8 414.3,184.5 418.0,186.8 C421.7,189.1 425.8,191.2 430.0,193.2 C434.2,195.2 439.2,197.1 443.5,198.7 C447.8,200.3 451.9,201.5 456.0,202.7 C460.1,203.9 464.3,205.1 468.0,206.0 C471.7,206.9 474.9,207.6 478.0,208.3 C481.1,209.0 483.9,209.4 486.7,210.0 C489.5,210.6 492.5,211.0 495.0,211.8 C497.5,212.6 500.6,214.5 501.7,215.0"/>
 <path class="t" d="M396.7,180 C398,182.5 399.8,184.8 401.7,186.7 C404.3,188.6 407.2,190.3 410,191.7"/>
 <path class="t" d="M404.4,173.6 C405.0,174.1 405.7,174.9 408.0,176.4 C410.3,177.9 414.3,180.4 418.0,182.3 C421.7,184.2 425.8,186.1 430.0,188.0 C434.2,189.9 439.2,192.1 443.5,193.6 C447.8,195.1 451.9,196.0 456.0,197.0 C460.1,198.0 462.9,198.4 468.0,199.5 C473.1,200.6 480.9,202.0 486.7,203.3 C492.5,204.6 500.3,206.8 503.0,207.5"/>
 <path class="t" d="M421.7,196.7 C428.5,200.2 435.7,203.5 443,206.7 M446.7,207.5 C453.5,210 460.7,212.2 468,214 C474,215.4 480.3,216.6 486.7,217.5 C491,217.7 495,217.3 499,216.7"/>
 <path class="t" d="M399.8,199 C402.5,201.3 405.3,203.5 408,205.5 C408.7,206.4 409.3,207.3 410,208.3 C415.3,212 421,215.3 426.7,218.3 C433.5,222 440.7,225.3 448,228.3 C454.5,230.8 461.2,233 468,235 C476.5,237.5 485.5,240 495,242.5 C498.5,243.5 502,245.5 505.8,248.3"/>
 <path class="t" d="M410,215.8 C415.3,219.2 421,222.2 426.7,225 C433.5,228.3 440.7,231.3 448,234 C454.5,236.4 461.2,238.7 468,240.8 C474,242.6 480.3,244.4 486.7,245.8 C492.5,247.5 498,249.6 503,251.7"/>
 <!-- bottom thick -->
 <path class="k" d="M399.7,201.7 C400.3,203 401,204 401.7,205 C404,209.5 406.8,213.7 410,217.5 C415,222.2 420.7,226.3 426.7,230 C432.5,233.8 438.7,237.5 445,240.8 C451,243.5 457,246 463,248.3 C468.7,250.3 474.3,252.2 480,254 C483.3,255.2 486.7,256.5 490,257.5 C493.5,257.3 497,256.5 500,255 C501,254.6 501.8,254 502.5,253.3"/>
 <path class="m" d="M491.7,255 C492.5,253.8 493.6,253 495,252.5 C497,252.2 499,252.2 500.8,252.5 C501.7,252.8 502.3,253.3 502.5,254 C502,255 501,255.5 500,255.8 C497.7,256.4 495.3,256.8 493,257"/>
 <path class="m" d="M502.5,252.5 L502.8,260"/>
 <path class="k" d="M505.8,252.5 L505.8,260 C506.8,261.7 508.2,262.8 510,263.3 C511.2,263 512.2,262.5 513,261.7 L515.8,259"/>
 <!-- liftgate edge lower -->
 <path class="m" d="M514,163 C513.4,167.5 513,172 513,176.7 C513,182 513.5,187.5 514,193 C514,196.5 513.3,199.8 512.5,202.5 C511.5,204.5 510.2,206.3 509,208 C507.7,210.4 506.3,212.6 505,214.5 C503.5,216.3 501.5,217.2 499.5,217.2"/>
 <!-- tail lamp -->
 <path class="g" d="M480,145 C488,144.2 495.5,143.4 503,142.5 C514,141.4 525.5,140.2 536.7,139 C543.5,138.3 550,137.6 556.7,136.7 C561.5,136 566,135 570,134 C571,134 571.7,134.4 571.7,135 C571.5,136.8 570.8,138.5 570,140 C568,143.6 565.7,147 563,150 C560,153 556.7,155.6 553,157.5 C549,159.8 544.5,161.6 540,162.6 C535.5,163.5 531,164 526.7,164.1 L515,164 C512.5,163.7 510.2,163 508,162 C503.5,160 499.2,158 495,155.8 C491.5,154 488,152 485,150 C483,148.5 481.3,146.8 480,145 Z"/>
 <path class="k" style="stroke-width:1.4" d="M475.8,145 L480,145 C488,144.2 495.5,143.4 503,142.5 C514,141.4 525.5,140.2 536.7,139 C543.5,138.3 550,137.6 556.7,136.7 C561.5,136 566,135 570,134 C571,134 571.7,134.4 571.7,135"/>
 <path class="k" style="stroke-width:1.4" d="M571.7,135 C571.5,136.8 570.8,138.5 570,140 C568,143.6 565.7,147 563,150 C560,153 556.7,155.6 553,157.5 C549,159.8 544.5,161.6 540,162.6 C535.5,163.5 531,164 526.7,164.1 L515,164 C512.5,163.7 510.2,163 508,162"/>
 <path class="m" d="M480,145 C481.3,146.8 483,148.5 485,150 C488,152 491.5,154 495,155.8 C499.2,158 503.5,160 508,161.7"/>
 <path class="m" d="M475.3,145.3 C476.3,147.8 478,150 480,151.7 C483.5,154.2 487.5,156.2 491.7,158 C497,160 502.5,161.8 508,163 L514,163.5"/>
 <path class="m" style="stroke-width:1.2" d="M563,140 C556,141.2 549,142.2 542,143 C534.5,143.8 527,144.6 520,145.2 C517.5,145.3 515,145.5 513,146.2 C511,147.3 509.7,149 509,151 C508.5,153 508.5,155 508.7,157 C509.3,158.8 510.3,160.2 511.7,161.2 C513.2,162 515,162.5 516.7,162.7"/>
 <ellipse class="t" cx="522.3" cy="153.7" rx="10.5" ry="7.3" transform="rotate(-5 522.3 153.7)"/>
 <path class="t" d="M543,145 C549.7,143.5 556.5,141.7 563,140 C564.2,139.8 565.3,140 565.8,140.8 C565,142.6 563.8,144.3 562.5,145.8 C560.8,148 558.8,150 556.7,151.7"/>
 <path class="t" d="M543,147.5 C543.3,150.3 544,153.2 545,155.8"/>
 <path class="t" d="M482.5,145.8 L508,145"/>
 <path class="t" d="M490,150.8 L507.5,151.7"/>
 <!-- reflector/diffuser -->
 <path class="k" d="M555.8,246.7 C555,247 554,247.3 553,247.5 C545,248.2 536.5,248.4 528,248 C521.5,247.5 515.3,246.7 509,245.8 C510,247.7 511.3,249.3 513,250.8 C515,252.8 517.3,254.5 520,255.8 C521.5,256.4 523.3,256.7 525,256.7 C533.3,256.7 541.7,256 550,255 C551.5,254.4 553,253.5 554,252.5"/>
 <path class="k" d="M512.5,256.7 C513.3,258.3 514.5,259.7 515.8,260.8 C517.5,262 519.5,262.8 521.7,263.3 C526.7,263.7 531.7,263.6 536.7,263.3 C542.3,262.8 547.7,262 553,260.8 C556.5,260 560,259 563,257.5 C565,256.2 566.8,254.5 568,252.5 C569.3,250.7 570.3,248.7 570.8,246.7 L571.7,241.7"/>
 <path class="t" d="M555.8,246.7 C559,245.8 562,245 565,244 L571.7,241.7"/>
 <!-- bumper side / wheel opening -->
 <path class="k" d="M571.7,241.7 C572,238.3 572.4,235 573,231.7 C574,226.8 575.3,222 577,217.6 C579,212.5 581.3,207.7 584,203 C587,198 590.3,193.2 594,188.5 C597.3,184 601,179.7 605,175.8 C607.2,174 609.5,172.5 612,171.5 C614,170.8 616,170.6 618,171 C620,171.6 621.7,172.6 623,174 C624.3,176 625.1,178.4 625.5,181 C626,185.5 626,190 626,194.5 C626.2,200.5 626.4,206.5 626.7,212.7"/>
 <!-- arch thin -->
 <path class="t" d="M555.8,155 C557,157.8 558.3,160.5 560,162.4 C567,170.5 574,179 581,187"/>
 <path class="t" d="M557.5,240 C559.5,232 562,224.5 565,217.6 C567,210.8 569.3,204.3 572,198 C574.7,193 577.7,188.2 581,183.6 C584,179 587,174.6 590.3,170.3 C593.7,166.4 597.2,162.7 601,159.4 C604,157 607.3,154.8 611,153.3 C612.6,152.6 614.3,152.2 616,152 C618.5,152.2 621,153 623,154 C625,155.2 626.6,156.5 628,158 C629.5,159.3 630.6,160.8 631.5,162.4"/>
 <path class="t" d="M566.7,243 C567.7,236.5 569,230 570.5,223.5 C571.8,217 573.5,210.3 575.8,204 C578.3,199 581,194.2 584,189.7 C586.7,185.5 589.6,181.4 592.7,177.6 C596,173.7 599.7,170 603.6,166.7 C606.5,164.7 609.6,163.2 613,162.4 C615.5,162 618.2,162 620.6,162.4 C622.8,163.2 624.9,164.4 626.7,166 C628.7,168.5 630.3,171.6 631.5,175 C632.3,178.6 632.8,182.3 633,186 L634,193"/>
 <path style="fill:none;stroke:#777;stroke-width:1.3" d="M616,152.3 L616,162"/>
 <!-- tire -->
 <path class="k" d="M605.0,176.0 C606.2,176.3 609.8,176.8 612.0,178.0 C614.2,179.2 616.3,181.3 618.0,183.5 C619.7,185.7 621.3,188.2 622.4,191.0 C623.5,193.8 624.0,196.9 624.5,200.6 C625.0,204.3 625.4,208.9 625.2,213.0 C625.0,217.1 624.1,221.8 623.5,225.0 C622.9,228.2 622.2,229.6 621.4,232.3 C620.6,235.1 619.6,238.5 618.5,241.5 C617.4,244.5 616.2,247.8 615.0,250.5 C613.8,253.2 612.5,255.6 611.0,258.0 C609.5,260.4 607.6,263.2 606.0,265.0 C604.4,266.8 603.0,267.8 601.5,268.7 C600.0,269.6 598.4,270.2 596.8,270.6 C595.2,271.0 593.5,271.0 592.0,271.0 C590.5,271.0 589.7,270.9 587.7,270.5 C585.7,270.1 582.5,269.2 580.0,268.5 C577.5,267.8 575.0,266.9 573.0,266.0 C571.0,265.1 569.5,264.1 568.0,263.0 C566.5,261.9 564.7,260.1 564.0,259.5"/>
 <path class="t" d="M621.8,189.7 C620.8,187.4 619.5,185.4 618,184 C616.5,182.7 615,182 613.3,181.8 C610.7,181.8 608.3,182.4 606,183.6 C603.3,185.6 601,188.2 598.8,191 C596,194.7 593.6,198.8 591.5,203 C589.2,207.7 587.4,212.6 586,217.6 C584.8,221.7 584.2,225.8 584,230 C583.7,235.6 584,241.2 585,246.7 C585.6,251.8 586.5,257 588,261.7 C589.3,265.2 591,268.4 593,270.8"/>
 <ellipse class="t" cx="605.6" cy="225.6" rx="14.3" ry="33.4" transform="rotate(12.9 605.6 225.6)"/>
 <!-- mudflap -->
 <path class="m" d="M626.4,209.8 L627,215 C627,217.3 626.8,219.5 626.4,221.5 L624.8,222.3"/>
 <path class="t" d="M624,175 C625.5,176.8 626.5,178.8 627,181 C627.8,185 628,189 628,193 L628,205.5"/>
 <!-- rocker -->
 <path class="k" d="M626.7,214.2 L658,190.7"/>
 <path class="t" d="M628.5,202.4 L658,183"/>
 <path class="t" d="M633,193 L658,178.7"/>
</g>
</defs>

<text class="ttl" x="10.5" y="12.8">Type A</text>
<text class="ttl" x="10.5" y="358.8">Type B</text>

<use href="#front"/>
<use href="#rear"/>
<use href="#rear" transform="translate(0,345.5)"/>
<use href="#front" transform="translate(0,345.5)"/>
<use href="#hlA"/>
<use href="#hlB" transform="translate(0,345.5)"/>

<!-- ===== Type A front leaders/labels ===== -->
<g class="ldh">
<path d="M98.5,28 L98.5,82.5 L244.5,82.5 M186.5,72.5 L186.5,82.5 M244.5,72.5 L244.5,82.5"/>
<path d="M214.5,28 L214.5,65 M214.5,41.5 L241.5,41.5 L241.5,28"/>
<path d="M286,28 L286,110"/>
<path d="M120.8,184 L104.2,268 L103.5,272 L103.5,297"/>
<path d="M132.5,187.5 L127.6,297"/>
<path d="M154.5,243 L154.5,297"/>
<path d="M151.7,184 L175.5,272 L178.5,280 L178.5,297"/>
<path d="M166.7,180 L201,272 L203.5,280 L203.5,297"/>
<path d="M178.5,172.5 L226.5,272 L228.5,277 L228.5,297"/>
</g>
<g class="ld">
<path d="M98.5,28 L98.5,82.5 L244.5,82.5 M186.5,72.5 L186.5,82.5 M244.5,72.5 L244.5,82.5"/>
<path d="M214.5,28 L214.5,65 M214.5,41.5 L241.5,41.5 L241.5,28"/>
<path d="M286,28 L286,110" style="stroke:#b8b8b8;stroke-width:2.1"/>
<path d="M120.8,184 L104.2,268 L103.5,272 L103.5,297"/>
<path d="M132.5,187.5 L127.6,297"/>
<path d="M154.5,243 L154.5,297"/>
<path d="M151.7,184 L175.5,272 L178.5,280 L178.5,297"/>
<path d="M166.7,180 L201,272 L203.5,280 L203.5,297"/>
<path d="M178.5,172.5 L226.5,272 L228.5,277 L228.5,297"/>
</g>
<g class="lb" transform="translate(99,18.9)"><circle r="8.5" cy="0.3"/><text transform="scale(0.62,1)" y="6.4">16</text></g>
<g class="lb" transform="translate(214.6,18.9)"><circle r="8.5" cy="0.3"/><text transform="scale(0.62,1)" y="6.4">15</text></g>
<g class="lb" transform="translate(241.5,18.9)"><circle r="8.5" cy="0.3"/><text transform="scale(0.62,1)" y="6.4">19</text></g>
<g class="lb" transform="translate(286,18.9)"><circle r="8.5" cy="0.3"/><text transform="scale(0.665,1)" y="6.4">8</text></g>
<g class="lb" transform="translate(103.3,305.3)"><circle r="8.5" cy="0.3"/><text transform="scale(0.665,1)" y="6.4">5</text></g>
<g class="lb" transform="translate(127.6,305.3)"><circle r="8.5" cy="0.3"/><text transform="scale(0.665,1)" y="6.4">7</text></g>
<g class="lb" transform="translate(154.7,305.3)"><circle r="8.5" cy="0.3"/><text transform="scale(0.665,1)" y="6.4">4</text></g>
<g class="lb" transform="translate(178,305.3)"><circle r="8.5" cy="0.3"/><text transform="scale(0.665,1)" y="6.4">1</text></g>
<g class="lb" transform="translate(203.2,305.3)"><circle r="8.5" cy="0.3"/><text transform="scale(0.665,1)" y="6.4">2</text></g>
<g class="lb" transform="translate(228.2,305.3)"><circle r="8.5" cy="0.3"/><text transform="scale(0.665,1)" y="6.4">3</text></g>

<!-- ===== Type A rear leaders/labels ===== -->
<g class="ldh">
<path d="M476.5,28 L476.5,68.5"/>
<path d="M502.5,28 L502.5,150 M502.5,41.5 L547.5,41.5 L547.5,146.7"/>
<path d="M558.5,28 L558.5,54"/>
<path d="M409.5,162.5 L409.5,297"/>
<path d="M419.5,151.7 L419.5,209.5 L445.5,209.5 M445.5,159 L445.5,297"/>
<path d="M504.5,155.8 L504.5,297"/>
<path d="M521.7,154 L555.5,238.3 L555.5,297"/>
<path d="M541.5,154 L589.5,227.5 L589.5,297"/>
</g>
<g class="ld">
<path d="M476.5,28 L476.5,68.5"/>
<path d="M502.5,28 L502.5,150 M502.5,41.5 L547.5,41.5 L547.5,146.7"/>
<path d="M558.5,28 L558.5,54"/>
<path d="M409.5,162.5 L409.5,297"/>
<path d="M419.5,151.7 L419.5,209.5 L445.5,209.5 M445.5,159 L445.5,297"/>
<path d="M504.5,155.8 L504.5,297"/>
<path d="M521.7,154 L555.5,238.3 L555.5,297"/>
<path d="M541.5,154 L589.5,227.5 L589.5,297"/>
</g>
<g class="lb" transform="translate(476.5,18.9)"><circle r="8.5" cy="0.3"/><text transform="scale(0.62,1)" y="6.4">13</text></g>
<g class="lb" transform="translate(502.7,18.9)"><circle r="8.5" cy="0.3"/><text transform="scale(0.62,1)" y="6.4">10</text></g>
<g class="lb" transform="translate(558.3,18.9)"><circle r="8.5" cy="0.3"/><text transform="scale(0.62,1)" y="6.4">17</text></g>
<g class="lb" transform="translate(409.7,305.3)"><circle r="8.5" cy="0.3"/><text transform="scale(0.62,1)" y="6.4">18</text></g>
<g class="lb" transform="translate(445.3,305.3)"><circle r="8.5" cy="0.3"/><text transform="scale(0.62,1)" y="6.4">14</text></g>
<g class="lb" transform="translate(504.3,305.3)"><circle r="8.5" cy="0.3"/><text transform="scale(0.62,1)" y="6.4">12</text></g>
<g class="lb" transform="translate(555.7,305.3)"><circle r="8.5" cy="0.3"/><text transform="scale(0.62,1)" y="6.4">11</text></g>
<g class="lb" transform="translate(589.2,305.3)"><circle r="8.5" cy="0.3"/><text transform="scale(0.665,1)" y="6.4">9</text></g>

<!-- ===== Type B front leaders/labels ===== -->
<g class="ldh" transform="translate(0,345.5)">
<path d="M98.5,28 L98.5,82.5 L244.5,82.5 M186.5,72.5 L186.5,82.5 M244.5,72.5 L244.5,82.5"/>
<path d="M214.5,28 L214.5,65 M214.5,41.5 L241.5,41.5 L241.5,28"/>
<path d="M286,28 L286,110"/>
<path d="M121.2,183.8 L100,267.5 L99.5,272 L99.5,297"/>
<path d="M132.5,187.5 L125,297"/>
<path d="M154,241 L153.5,297"/>
<path d="M151.2,182.5 L183.5,272.5 L183.5,297"/>
</g>
<g class="ld" transform="translate(0,345.5)">
<path d="M98.5,28 L98.5,82.5 L244.5,82.5 M186.5,72.5 L186.5,82.5 M244.5,72.5 L244.5,82.5"/>
<path d="M214.5,28 L214.5,65 M214.5,41.5 L241.5,41.5 L241.5,28"/>
<path d="M286,28 L286,110" style="stroke:#b8b8b8;stroke-width:2.1"/>
<path d="M121.2,183.8 L100,267.5 L99.5,272 L99.5,297"/>
<path d="M132.5,187.5 L125,297"/>
<path d="M154,241 L153.5,297"/>
<path d="M151.2,182.5 L183.5,272.5 L183.5,297"/>
</g>
<g class="lb" transform="translate(99,364.4)"><circle r="8.5" cy="0.3"/><text transform="scale(0.62,1)" y="6.4">16</text></g>
<g class="lb" transform="translate(214.6,364.4)"><circle r="8.5" cy="0.3"/><text transform="scale(0.62,1)" y="6.4">15</text></g>
<g class="lb" transform="translate(241.5,364.4)"><circle r="8.5" cy="0.3"/><text transform="scale(0.62,1)" y="6.4">19</text></g>
<g class="lb" transform="translate(286,364.4)"><circle r="8.5" cy="0.3"/><text transform="scale(0.665,1)" y="6.4">8</text></g>
<g class="lb" transform="translate(98.5,650.8)"><circle r="8.5" cy="0.3"/><text transform="scale(0.665,1)" y="6.4">5</text></g>
<g class="lb" transform="translate(125,650.8)"><circle r="8.5" cy="0.3"/><text transform="scale(0.665,1)" y="6.4">6</text></g>
<g class="lb" transform="translate(153.8,650.8)"><circle r="8.5" cy="0.3"/><text transform="scale(0.665,1)" y="6.4">4</text></g>
<g class="lb" transform="translate(183.7,650.8)"><circle r="8.5" cy="0.3"/><text transform="scale(0.665,1)" y="6.4">1</text></g>

<!-- ===== Type B rear leaders/labels ===== -->
<g class="ldh" transform="translate(0,345.5)">
<path d="M476.5,28 L476.5,68.5"/>
<path d="M558.5,28 L558.5,54"/>
<path d="M409.5,162.5 L409.5,297"/>
<path d="M419.5,151.7 L419.5,209.5 L445.5,209.5 M445.5,159 L445.5,297"/>
<path d="M502.5,154.5 L502.5,297"/>
<path d="M521.7,154 L555.5,234 L555.5,297"/>
<path d="M541.5,154 L591.5,214 L591.5,297"/>
</g>
<g class="ld" transform="translate(0,345.5)">
<path d="M476.5,28 L476.5,68.5"/>
<path d="M558.5,28 L558.5,54"/>
<path d="M409.5,162.5 L409.5,297"/>
<path d="M419.5,151.7 L419.5,209.5 L445.5,209.5 M445.5,159 L445.5,297"/>
<path d="M502.5,154.5 L502.5,297"/>
<path d="M521.7,154 L555.5,234 L555.5,297"/>
<path d="M541.5,154 L591.5,214 L591.5,297"/>
</g>
<g class="lb" transform="translate(476.5,364.4)"><circle r="8.5" cy="0.3"/><text transform="scale(0.62,1)" y="6.4">13</text></g>
<g class="lb" transform="translate(558.3,364.4)"><circle r="8.5" cy="0.3"/><text transform="scale(0.62,1)" y="6.4">17</text></g>
<g class="lb" transform="translate(409.7,650.8)"><circle r="8.5" cy="0.3"/><text transform="scale(0.62,1)" y="6.4">18</text></g>
<g class="lb" transform="translate(445.3,650.8)"><circle r="8.5" cy="0.3"/><text transform="scale(0.62,1)" y="6.4">14</text></g>
<g class="lb" transform="translate(502.3,650.8)"><circle r="8.5" cy="0.3"/><text transform="scale(0.62,1)" y="6.4">12</text></g>
<g class="lb" transform="translate(555.7,650.8)"><circle r="8.5" cy="0.3"/><text transform="scale(0.62,1)" y="6.4">11</text></g>
<g class="lb" transform="translate(591,650.8)"><circle r="8.5" cy="0.3"/><text transform="scale(0.62,1)" y="6.4">10</text></g>

</svg>
</body>
</html>
